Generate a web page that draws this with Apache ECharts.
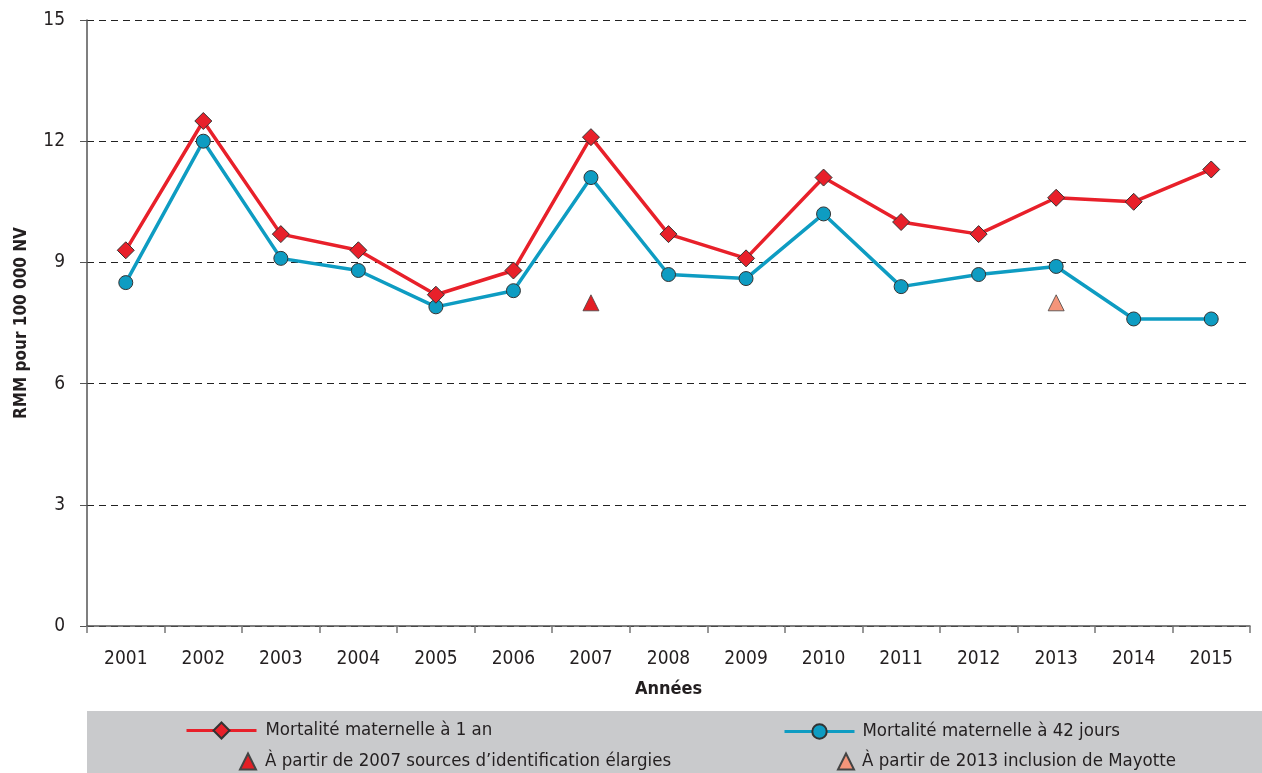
<!DOCTYPE html>
<html>
<head>
<meta charset="utf-8">
<script src="https://cdn.jsdelivr.net/npm/echarts@6/dist/echarts.min.js"></script>
<style>
  html, body { margin: 0; padding: 0; background: #fff; }
  #chart { width: 1262px; height: 773px; }
</style>
</head>
<body>
<div id="chart"></div>
<script>
  const years = ['2001', '2002', '2003', '2004', '2005', '2006', '2007', '2008',
    '2009', '2010', '2011', '2012', '2013', '2014', '2015'];
  // mortalité maternelle à 1 an
  const oneYear = [9.3, 12.5, 9.7, 9.3, 8.2, 8.8, 12.1, 9.7, 9.1, 11.1, 10.0, 9.7, 10.6, 10.5, 11.3];
  // mortalité maternelle à 42 jours
  const days42 = [8.5, 12.0, 9.1, 8.8, 7.9, 8.3, 11.1, 8.7, 8.6, 10.2, 8.4, 8.7, 8.9, 7.6, 7.6];
  // triangles (markers only)
  const marker2007 = [['2007', 8.0]];
  const marker2013 = [['2013', 8.0]];

  const FONT = '"DejaVu Sans Condensed", "Liberation Sans", sans-serif';
  const RED = '#e8202a';
  const BLUE = '#0e9cc2';

  const chart = echarts.init(document.getElementById('chart'));

  const legendText = { fontFamily: FONT, fontSize: 18.5, color: '#231f20' };

  chart.setOption({
    animation: false,
    textStyle: { fontFamily: FONT },
    graphic: [
      {
        type: 'rect',
        left: 87,
        top: 711,
        shape: { width: 1175, height: 62 },
        style: { fill: '#c9cacc' },
        z: -1,
      },
    ],
    legend: [
      {
        data: ['Mortalité maternelle à 1 an'],
        left: 180, top: 716,
        itemWidth: 70, itemHeight: 20,
        lineStyle: { width: 3 },
        textStyle: Object.assign({ padding: [0, 0, 0, 4] }, legendText),
      },
      {
        data: ['Mortalité maternelle à 42 jours'],
        left: 778, top: 717,
        itemWidth: 70, itemHeight: 18,
        lineStyle: { width: 3 },
        textStyle: Object.assign({ padding: [0, 0, 0, 3] }, legendText),
      },
      {
        data: ['À partir de 2007 sources d’identification élargies'],
        left: 234, top: 747,
        itemWidth: 16, itemHeight: 16,
        textStyle: Object.assign({ padding: [0, 0, 0, 4] }, legendText),
      },
      {
        data: ['À partir de 2013 inclusion de Mayotte'],
        left: 832, top: 747,
        itemWidth: 16, itemHeight: 16,
        textStyle: Object.assign({ padding: [0, 0, 0, 3] }, legendText),
      },
    ],
    grid: { left: 87, right: 12, top: 20, bottom: 147, outerBoundsMode: 'none' },
    xAxis: {
      type: 'category',
      data: years,
      boundaryGap: true,
      name: 'Années',
      nameLocation: 'middle',
      nameGap: 54,
      nameTextStyle: { fontFamily: FONT, fontSize: 18, fontWeight: 'bold', color: '#231f20' },
      axisLine: { lineStyle: { color: '#555', width: 1.5 } },
      axisTick: { show: true, length: 7, lineStyle: { color: '#777', width: 1.5 } },
      axisLabel: { fontFamily: FONT, fontSize: 19, color: '#231f20', margin: 24 },
    },
    yAxis: {
      type: 'value',
      min: 0,
      max: 15,
      interval: 3,
      name: 'RMM pour 100 000 NV',
      nameLocation: 'middle',
      nameGap: 57,
      nameTextStyle: { fontFamily: FONT, fontSize: 17, fontWeight: 'bold', color: '#231f20' },
      axisLine: { show: true, lineStyle: { color: '#555', width: 1.5 } },
      axisTick: { show: true, length: 7, lineStyle: { color: '#555', width: 1 } },
      axisLabel: { fontFamily: FONT, fontSize: 19, color: '#231f20', margin: 22 },
      splitLine: { show: true, lineStyle: { color: '#222', type: [7, 5], width: 1 } },
    },
    series: [
      {
        name: 'Mortalité maternelle à 42 jours',
        type: 'line',
        data: days42,
        symbol: 'circle',
        symbolSize: 14,
        lineStyle: { color: BLUE, width: 3.5 },
        itemStyle: { color: BLUE, borderColor: '#333', borderWidth: 1 },
        z: 2,
      },
      {
        name: 'Mortalité maternelle à 1 an',
        type: 'line',
        data: oneYear,
        symbol: 'diamond',
        symbolSize: [17, 17],
        lineStyle: { color: RED, width: 3.5 },
        itemStyle: { color: RED, borderColor: '#333', borderWidth: 1 },
        z: 3,
      },
      {
        name: 'À partir de 2007 sources d’identification élargies',
        type: 'scatter',
        data: marker2007,
        symbol: 'triangle',
        symbolSize: 16,
        itemStyle: { color: '#e31e24', borderColor: '#444', borderWidth: 0.8, opacity: 1 },
      },
      {
        name: 'À partir de 2013 inclusion de Mayotte',
        type: 'scatter',
        data: marker2013,
        symbol: 'triangle',
        symbolSize: 16,
        itemStyle: { color: '#f4957a', borderColor: '#444', borderWidth: 0.8, opacity: 1 },
      },
    ],
  });
</script>
</body>
</html>
